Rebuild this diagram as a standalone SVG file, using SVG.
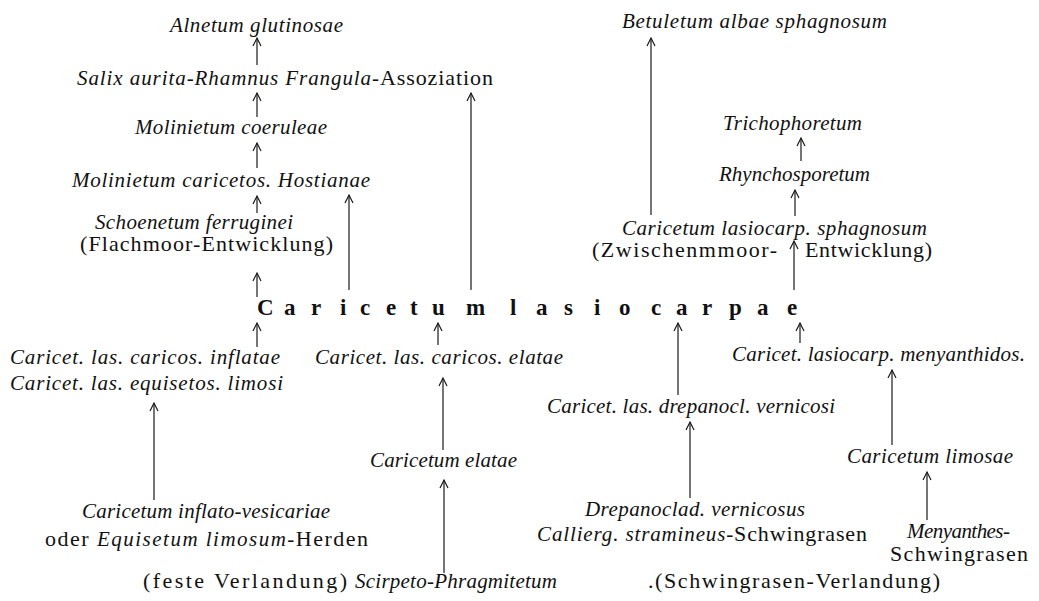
<svg xmlns="http://www.w3.org/2000/svg" width="1039" height="601" viewBox="0 0 1039 601">
<style>
text{font-family:"Liberation Serif","Times New Roman",serif;font-size:21px;fill:#111}
.i{font-style:italic}
.r{font-style:normal;font-size:22px}
.rt{font-size:22px}
.big{font-weight:bold;font-size:23px}
.c line{stroke:#1a1a1a;stroke-width:1.2;marker-end:url(#ah)}
</style>
<defs>
<marker id="ah" viewBox="-10 -6 12 12" markerWidth="12" markerHeight="12" refX="0" refY="0" orient="auto" markerUnits="userSpaceOnUse">
<path d="M-8,-4 L0,0 L-8,4" fill="none" stroke="#1a1a1a" stroke-width="1.2"/>
</marker>
</defs>
<rect width="1039" height="601" fill="#fff"/>

<g id="n-alnetum"><text class="i" x="170" y="32" textLength="173" lengthAdjust="spacing">Alnetum glutinosae</text></g>
<g id="n-salix"><text x="77" y="85" textLength="416" lengthAdjust="spacing"><tspan class="i">Salix aurita-Rhamnus Frangula-</tspan><tspan class="r">Assoziation</tspan></text></g>
<g id="n-molinietum-coer"><text class="i" x="135" y="134" textLength="192" lengthAdjust="spacing">Molinietum coeruleae</text></g>
<g id="n-molinietum-car"><text class="i" x="72" y="187" textLength="298" lengthAdjust="spacing">Molinietum caricetos. Hostianae</text></g>
<g id="n-schoenetum">
<text class="i" x="95" y="229" textLength="198" lengthAdjust="spacing">Schoenetum ferruginei</text>
<text class="rt" x="80" y="251" textLength="253" lengthAdjust="spacing">(Flachmoor-Entwicklung)</text>
</g>
<g id="n-betuletum"><text class="i" x="622" y="28" textLength="265" lengthAdjust="spacing">Betuletum albae sphagnosum</text></g>
<g id="n-trichophoretum"><text class="i" x="723" y="130" textLength="139" lengthAdjust="spacing">Trichophoretum</text></g>
<g id="n-rhynchosporetum"><text class="i" x="719" y="181" textLength="151" lengthAdjust="spacing">Rhynchosporetum</text></g>
<g id="n-sphagnosum">
<text class="i" x="622" y="235" textLength="305" lengthAdjust="spacing">Caricetum lasiocarp. sphagnosum</text>
<text class="rt" x="592" y="257" textLength="185" lengthAdjust="spacing">(Zwischenmmoor-</text>
<text class="rt" x="805" y="257" textLength="127" lengthAdjust="spacing">Entwicklung)</text>
</g>
<g id="n-lasiocarpae"><text class="big" y="315" x="257 284 311 340 360 386 410 432 466 490 510 536 564 594 619 651 676 702 729 757 787">Caricetum lasiocarpae</text></g>
<g id="n-inflatae">
<text class="i" x="10" y="364" textLength="270" lengthAdjust="spacing">Caricet. las. caricos. inflatae</text>
<text class="i" x="10" y="390" textLength="273" lengthAdjust="spacing">Caricet. las. equisetos. limosi</text>
</g>
<g id="n-caricos-elatae"><text class="i" x="315" y="364" textLength="248" lengthAdjust="spacing">Caricet. las. caricos. elatae</text></g>
<g id="n-menyanthidos"><text class="i" x="732" y="361" textLength="293" lengthAdjust="spacing">Caricet. lasiocarp. menyanthidos.</text></g>
<g id="n-drepanocl"><text class="i" x="547" y="413" textLength="288" lengthAdjust="spacing">Caricet. las. drepanocl. vernicosi</text></g>
<g id="n-caricetum-elatae"><text class="i" x="370" y="467" textLength="147" lengthAdjust="spacing">Caricetum elatae</text></g>
<g id="n-limosae"><text class="i" x="847" y="463" textLength="166" lengthAdjust="spacing">Caricetum limosae</text></g>
<g id="n-inflato">
<text class="i" x="82" y="518" textLength="248" lengthAdjust="spacing">Caricetum inflato-vesicariae</text>
<text x="45" y="546" textLength="323" lengthAdjust="spacing"><tspan class="r">oder </tspan><tspan class="i">Equisetum limosum-</tspan><tspan class="r">Herden</tspan></text>
</g>
<g id="n-drepanoclad">
<text class="i" x="585" y="516" textLength="220" lengthAdjust="spacing">Drepanoclad. vernicosus</text>
<text x="537" y="541" textLength="330" lengthAdjust="spacing"><tspan class="i">Callierg. stramineus-</tspan><tspan class="r">Schwingrasen</tspan></text>
</g>
<g id="n-menyanthes">
<text class="i" x="907" y="538" textLength="103" lengthAdjust="spacing">Menyanthes-</text>
<text class="rt" x="890" y="561" textLength="138" lengthAdjust="spacing">Schwingrasen</text>
</g>
<g id="n-scirpeto">
<text class="rt" x="143" y="588" textLength="204" lengthAdjust="spacing">(feste Verlandung)</text>
<text class="i" x="355" y="588" textLength="202" lengthAdjust="spacing">Scirpeto-Phragmitetum</text>
</g>
<g id="n-schwingrasen-verl"><text class="rt" x="648" y="588" textLength="292" lengthAdjust="spacing">.(Schwingrasen-Verlandung)</text></g>

<g id="connectors" class="c">
<line x1="257" y1="65" x2="257" y2="38"/>
<line x1="257" y1="117" x2="257" y2="93"/>
<line x1="257" y1="168" x2="257" y2="143"/>
<line x1="257" y1="213" x2="257" y2="196"/>
<line x1="257" y1="297" x2="257" y2="273"/>
<line x1="349" y1="290" x2="349" y2="195"/>
<line x1="471" y1="290" x2="471" y2="93"/>
<line x1="257" y1="347" x2="257" y2="323"/>
<line x1="154" y1="500" x2="154" y2="403"/>
<line x1="438" y1="345" x2="438" y2="323"/>
<line x1="443" y1="450" x2="443" y2="378"/>
<line x1="444" y1="573" x2="444" y2="480"/>
<line x1="678" y1="395" x2="678" y2="323"/>
<line x1="690" y1="498" x2="690" y2="422"/>
<line x1="800" y1="343" x2="800" y2="323"/>
<line x1="892" y1="445" x2="892" y2="370"/>
<line x1="927" y1="520" x2="927" y2="472"/>
<line x1="794" y1="290" x2="794" y2="241"/>
<line x1="795" y1="216" x2="795" y2="190"/>
<line x1="801" y1="161" x2="801" y2="138"/>
<line x1="651" y1="215" x2="651" y2="38"/>
</g>
</svg>
